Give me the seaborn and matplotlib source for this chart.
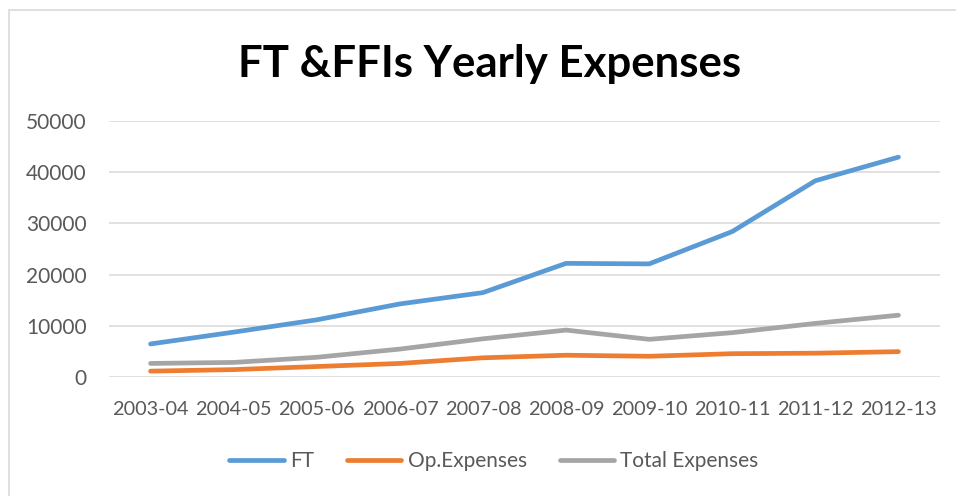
import pandas as pd
import seaborn as sns
import matplotlib.pyplot as plt
from matplotlib.patches import Rectangle

# yearly values
years = ['2003-04', '2004-05', '2005-06', '2006-07', '2007-08',
         '2008-09', '2009-10', '2010-11', '2011-12', '2012-13']
ft = [6500, 8800, 11200, 14300, 16500, 22200, 22100, 28400, 38300, 42900]
op_expenses = [1200, 1500, 2100, 2700, 3800, 4300, 4100, 4600, 4700, 5000]
total_expenses = [2700, 2900, 3900, 5500, 7500, 9200, 7400, 8700, 10500, 12100]

df = pd.DataFrame({'Year': years, 'FT': ft, 'Op.Expenses': op_expenses,
                   'Total Expenses': total_expenses})
df_long = df.melt(id_vars='Year', var_name='Series', value_name='Value')

sns.set_style('white')
plt.rcParams['font.family'] = ['Lato', 'DejaVu Sans']

colors = {'FT': '#5B9BD5', 'Op.Expenses': '#ED7D31', 'Total Expenses': '#A5A5A5'}

fig = plt.figure(figsize=(9.56, 4.96), dpi=100)
ax = fig.add_axes([109 / 956, 1 - 377.3 / 496, 831 / 956, 256.6 / 496])

sns.lineplot(data=df_long, x='Year', y='Value', hue='Series', palette=colors,
             linewidth=3.4, sort=False, ax=ax, legend=True)
for line in ax.lines:
    line.set_solid_capstyle('round')

ax.set_xlim(-0.5, len(years) - 0.5)
ax.set_ylim(0, 50000)
ax.set_yticks(range(0, 50001, 10000))
ax.yaxis.grid(True, color='#D9D9D9', linewidth=1.1)
ax.set_axisbelow(True)
for s in ax.spines.values():
    s.set_visible(False)
ax.tick_params(axis='y', length=0, labelsize=15, labelcolor='#595959', pad=16)
ax.tick_params(axis='x', length=0, labelsize=14.3, labelcolor='#595959', pad=17)
ax.set_xlabel('')
ax.set_ylabel('')

# legend at the bottom
handles, labels = ax.get_legend_handles_labels()
ax.legend(handles, labels, loc='center', bbox_to_anchor=(494 / 956, 1 - 461 / 496),
          bbox_transform=fig.transFigure, ncol=3, frameon=False, fontsize=15,
          handlelength=2.6, handletextpad=0.3, columnspacing=1.6,
          labelcolor='#595959')

fig.text(490 / 956, 1 - 77 / 496, 'FT &FFIs Yearly Expenses', ha='center',
         va='baseline', fontsize=31.5, fontweight='bold', color='black')

# chart area outline (cropped on the right and bottom)
fig.patches.append(Rectangle((9 / 956, -0.1), 1.0, 1 - 10 / 496 + 0.1,
                             transform=fig.transFigure, fill=False,
                             edgecolor='#D9D9D9', linewidth=1.2))

fig.savefig('out.png', dpi=100)
